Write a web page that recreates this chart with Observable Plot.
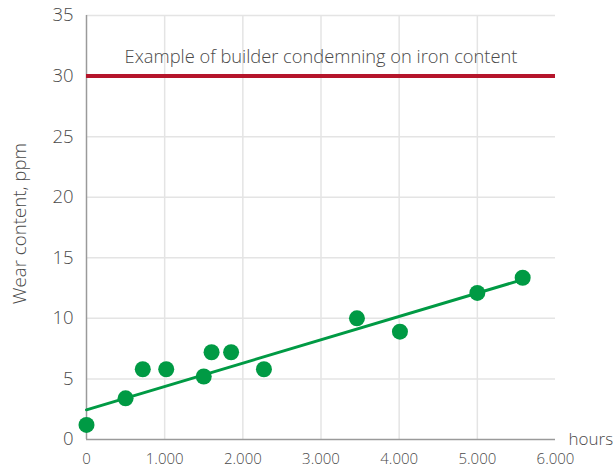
<!DOCTYPE html>
<html><head><meta charset="utf-8">
<script src="https://cdn.jsdelivr.net/npm/d3@7"></script>
<script src="https://cdn.jsdelivr.net/npm/@observablehq/plot@0.6"></script>
<style>body{margin:0;background:#fff}</style>
</head><body><div id="chart"></div>
<script>
const hours = [0, 500, 720, 1020, 1500, 1600, 1850, 2270, 3460, 4010, 5000, 5580];
const wear = [1.2, 3.4, 5.8, 5.8, 5.2, 7.2, 7.2, 5.8, 10.0, 8.9, 12.1, 13.35];
const trendHours = [0, 5580];
const trendWear = [2.45, 13.2];
const limitValue = 30;
const limitLabel = "Example of builder condemning on iron content";
const limitLabelHours = 3000;
const xTicks = [0, 1000, 2000, 3000, 4000, 5000, 6000];
const xGrid = [1000, 2000, 3000, 4000, 5000];
const yTicks = [0, 5, 10, 15, 20, 25, 30, 35];
const yGrid = [5, 10, 15, 20, 25, 35];
const xLabel = "hours";
const yLabel = "Wear content, ppm";

const points = hours.map((h, i) => ({h, w: wear[i]}));
const trend = trendHours.map((h, i) => ({h, w: trendWear[i]}));
const fmt = d => d === 0 ? "0" : d3.format(",")(d).replace(/,/g, ".");

const green = "#009a44", red = "#b5152b", grid = "#e4e4e4", axis = "#9a9a9a", txt = "#4a4a4a";

const chart = Plot.plot({
  width: 616, height: 468,
  marginLeft: 86, marginRight: 61, marginTop: 15, marginBottom: 29,
  style: {fontFamily: "Open Sans", fontSize: "16px", fontWeight: 300, color: txt, background: "#fff"},
  x: {domain: [0, 6000], ticks: xTicks, tickFormat: fmt, tickSize: 0, tickPadding: 14, label: null},
  y: {domain: [0, 35], ticks: yTicks, tickSize: 0, tickPadding: 11, label: null},
  marks: [
    Plot.ruleY(yGrid, {stroke: grid, strokeWidth: 1.5}),
    Plot.ruleX(xGrid, {stroke: grid, strokeWidth: 1.5}),
    Plot.ruleX([0], {stroke: axis, strokeWidth: 1.5}),
    Plot.ruleY([0], {stroke: axis, strokeWidth: 1.5}),
    Plot.ruleY([limitValue], {stroke: red, strokeWidth: 4}),
    Plot.text([limitLabel], {x: limitLabelHours, y: limitValue, dy: -19, text: d => d, fill: txt, fontSize: 18.3, fontWeight: 300}),
    Plot.line(trend, {x: "h", y: "w", stroke: green, strokeWidth: 3}),
    Plot.dot(points, {x: "h", y: "w", r: 8, fill: green, stroke: "none"}),
    Plot.text([xLabel], {x: 6000, y: 0, dx: 13, textAnchor: "start", text: d => d, fill: txt, fontSize: 17, fontWeight: 300}),
    Plot.text([yLabel], {frameAnchor: "left", dx: -66, dy: -4, textAnchor: "middle", rotate: -90, text: d => d, fill: txt, fontSize: 18.7, fontWeight: 300}),
    Plot.axisX({ticks: xTicks, tickFormat: fmt, tickSize: 0, tickPadding: 14, fontSize: 15, fontWeight: 300, label: null}),
    Plot.axisY({ticks: yTicks, tickSize: 0, tickPadding: 13, fontSize: 18.5, fontWeight: 300, label: null})
  ]
});
document.getElementById("chart").appendChild(chart);
</script></body></html>
